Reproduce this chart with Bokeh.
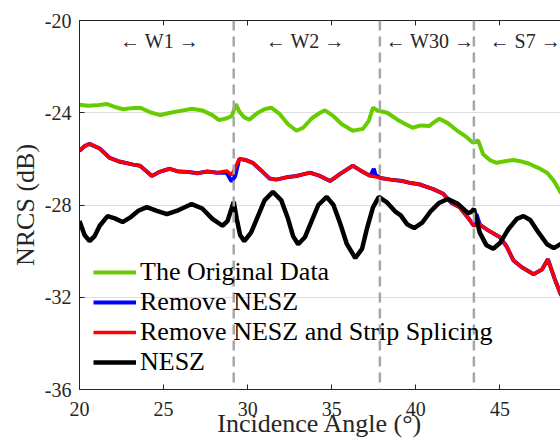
from bokeh.plotting import figure
from bokeh.models import Range1d, FixedTicker, LinearAxis, Span, CustomJSTickFormatter
from bokeh.core.properties import value
from bokeh.embed import file_html
from bokeh.resources import INLINE

# ---------------- data ----------------
orig_x = [20.0, 20.5, 21.0, 21.6, 22.1, 22.6, 23.1, 23.6, 24.2, 24.8, 25.4, 26.0, 26.7, 27.3, 27.9,
          28.3, 28.7, 29.05, 29.2, 29.3, 29.5, 29.8, 30.1, 30.6, 31.0, 31.4, 31.9, 32.4, 32.9, 33.3,
          33.8, 34.3, 34.6, 35.1, 35.6, 36.25, 36.85, 37.2, 37.45, 37.7, 38.3, 38.9, 39.4, 39.8, 40.3,
          40.8, 41.1, 41.4, 41.9, 42.5, 43.0, 43.4, 43.7, 44.0, 44.4, 44.8, 45.3, 45.8, 46.2, 46.7,
          47.3, 47.8, 48.2, 48.6, 49.0]
orig_y = [-23.65, -23.70, -23.68, -23.62, -23.75, -23.85, -23.80, -23.78, -23.98, -24.10, -24.00, -23.92,
          -23.83, -23.90, -24.10, -24.32, -24.25, -24.15, -23.85, -23.62, -23.95, -24.20, -24.30, -24.00,
          -23.85, -23.78, -24.05, -24.50, -24.78, -24.65, -24.25, -24.00, -23.90, -24.15, -24.50, -24.78,
          -24.70, -24.35, -23.78, -23.90, -24.00, -24.30, -24.50, -24.65, -24.55, -24.57, -24.40, -24.26,
          -24.45, -24.80, -25.05, -25.30, -25.20, -25.80, -26.05, -26.17, -26.10, -26.05, -26.10, -26.20,
          -26.40, -26.60, -26.95, -27.45, -27.80]

red_x = [20.0, 20.3, 20.6, 21.2, 21.8, 22.3, 22.7, 23.2, 23.6, 24.0, 24.3, 24.8, 25.36, 25.9, 26.5,
         27.0, 27.6, 28.2, 28.75, 29.05, 29.25, 29.5, 29.9, 30.3, 30.8, 31.3, 31.7, 32.3, 32.9, 33.4,
         33.7, 34.3, 34.9, 35.5, 36.25, 36.7, 37.3, 37.5, 37.6, 37.9, 38.5, 39.2, 39.7, 40.2, 40.6,
         41.0, 41.6, 42.1, 42.6, 43.1, 43.45, 43.6, 43.8, 44.3, 45.0, 45.4, 45.8, 46.3, 47.0, 47.5,
         47.85, 48.3, 48.6, 49.0]
red_y = [-25.65, -25.45, -25.35, -25.55, -25.96, -26.10, -26.17, -26.25, -26.30, -26.55, -26.74, -26.55,
         -26.43, -26.55, -26.57, -26.62, -26.55, -26.60, -26.52, -26.70, -26.40, -26.00, -26.05, -26.17,
         -26.50, -26.85, -26.90, -26.80, -26.74, -26.65, -26.60, -26.74, -26.96, -26.65, -26.30, -26.50,
         -26.74, -26.76, -26.78, -26.83, -26.90, -26.96, -27.05, -27.10, -27.20, -27.30, -27.50, -27.90,
         -28.10, -28.55, -28.90, -28.88, -28.85, -29.10, -29.40, -29.80, -30.40, -30.70, -31.00, -30.80,
         -30.35, -31.30, -31.85, -32.30]

blue_x = red_x
blue_y = [-25.65, -25.45, -25.35, -25.55, -25.96, -26.10, -26.17, -26.25, -26.30, -26.55, -26.74, -26.55,
          -26.43, -26.55, -26.57, -26.62, -26.55, -26.60, -26.60, -26.98, -26.75, -26.00, -26.05, -26.17,
          -26.50, -26.85, -26.90, -26.80, -26.74, -26.65, -26.60, -26.74, -26.96, -26.65, -26.30, -26.50,
          -26.74, -26.43, -26.70, -26.83, -26.90, -26.96, -27.05, -27.10, -27.20, -27.30, -27.50, -27.90,
          -28.10, -28.55, -28.90, -28.40, -28.85, -29.10, -29.40, -29.80, -30.40, -30.70, -31.00, -30.80,
          -30.35, -31.30, -31.85, -32.30]

nesz_x = [20.0, 20.3, 20.6, 20.9, 21.2, 21.67, 22.1, 22.56, 23.0, 23.5, 24.0, 24.6, 25.2, 25.9, 26.67,
          27.3, 27.9, 28.5, 28.8, 29.0, 29.17, 29.35, 29.55, 29.8, 30.2, 30.6, 31.0, 31.5, 32.0, 32.4,
          32.7, 33.0, 33.4, 33.8, 34.2, 34.7, 35.1, 35.5, 35.9, 36.4, 36.8, 37.1, 37.45, 37.8, 38.3,
          38.8, 39.1, 39.5, 39.9, 40.4, 40.9, 41.4, 41.9, 42.5, 43.1, 43.3, 43.45, 43.6, 43.8, 44.2,
          44.6, 45.0, 45.5, 46.0, 46.4, 46.8, 47.3, 47.8, 48.2, 48.6, 49.0]
nesz_y = [-28.70, -29.30, -29.57, -29.35, -28.90, -28.48, -28.58, -28.74, -28.55, -28.25, -28.09, -28.25,
          -28.40, -28.22, -27.96, -28.15, -28.60, -28.90, -28.70, -28.25, -27.87, -28.60, -29.30, -29.57,
          -29.20, -28.50, -27.80, -27.43, -27.80, -28.60, -29.35, -29.70, -29.40, -28.70, -28.00, -27.65,
          -28.00, -28.80, -29.70, -30.30, -29.90, -29.00, -28.10, -27.65, -27.90, -28.30, -28.45, -28.85,
          -29.00, -28.75, -28.25, -27.90, -27.74, -27.95, -28.35, -28.30, -28.17, -28.60, -29.20, -29.75,
          -29.90, -29.65, -29.05, -28.60, -28.48, -28.65, -29.20, -29.70, -29.87, -29.70, -29.50]

boundaries = [29.17, 37.86, 43.45]
mode_labels = ["\u2190 W1 \u2192", "\u2190 W2 \u2192", "\u2190 W30 \u2192", "\u2190 S7 \u2192"]
mode_x = [24.76, 33.42, 40.83, 46.5]
mode_y = [-20.9, -20.9, -20.9, -20.9]

x_ticks = [20, 25, 30, 35, 40, 45]
y_ticks = [-36, -32, -28, -24, -20]
y_tick_labels = ["-36", "-32", "-28", "-24", "-20"]

# ---------------- figure ----------------
FONT = "'Liberation Serif', 'Times New Roman', Times, serif"
AX = "#262626"

p = figure(width=560, height=441, x_range=Range1d(20, 48.6), y_range=Range1d(-36, -20),
           output_backend="svg", toolbar_location=None,
           min_border_left=79, min_border_right=0, min_border_top=20, min_border_bottom=52)
p.outline_line_color = None
p.background_fill_color = "white"
p.border_fill_color = "white"

p.xgrid.visible = False
p.ygrid.ticker = FixedTicker(ticks=y_ticks)
p.ygrid.grid_line_color = "#dedede"
p.ygrid.grid_line_width = 1

for ax in (p.xaxis[0], p.yaxis[0]):
    ax.axis_line_color = AX
    ax.major_tick_line_color = AX
    ax.major_tick_in = 5
    ax.major_tick_out = 0
    ax.minor_tick_line_color = None
    ax.major_label_text_font = FONT
    ax.major_label_text_font_size = "20px"
    ax.major_label_text_color = AX
    ax.axis_label_text_font = FONT
    ax.axis_label_text_font_size = "26px"
    ax.axis_label_text_font_style = "normal"
    ax.axis_label_text_color = AX

p.xaxis[0].ticker = FixedTicker(ticks=x_ticks)
p.yaxis[0].ticker = FixedTicker(ticks=y_ticks)
p.yaxis[0].major_label_overrides = dict(zip(y_ticks, y_tick_labels))
p.xaxis[0].axis_label = "Incidence Angle (\u00b0)"
p.yaxis[0].axis_label = "NRCS (dB)"
p.xaxis[0].major_label_standoff = 12
p.xaxis[0].axis_label_standoff = -10
p.yaxis[0].major_label_standoff = 8
p.yaxis[0].axis_label_standoff = 2

top = LinearAxis(ticker=FixedTicker(ticks=x_ticks), axis_line_color=AX, major_tick_line_color=AX,
                 major_tick_in=5, major_tick_out=0, minor_tick_line_color=None,
                 formatter=CustomJSTickFormatter(code="return ''"), major_label_standoff=0)
p.add_layout(top, "above")

for b in boundaries:
    p.add_layout(Span(location=b, dimension="height", line_color="#a6a6a6",
                      line_width=2.5, line_dash="10 6"))

p.line(orig_x, orig_y, line_color="#66cc00", line_width=4, legend_label="The Original Data")
p.line(blue_x, blue_y, line_color="#0000ff", line_width=4, legend_label="Remove NESZ")
p.line(red_x, red_y, line_color="#ff0000", line_width=3.5, legend_label="Remove NESZ and Strip Splicing")
p.line(nesz_x, nesz_y, line_color="#000000", line_width=4.5, legend_label="NESZ")

p.text(x=mode_x, y=mode_y, text=mode_labels, text_font=value(FONT), text_font_size="20px",
       text_align="center", text_baseline="middle", text_color=AX)

lg = p.legend[0]
lg.location = (14, 12)
lg.background_fill_alpha = 0
lg.border_line_color = None
lg.padding = 0
lg.margin = 0
lg.spacing = 0
lg.glyph_width = 43
lg.glyph_height = 30
lg.label_height = 30
lg.label_standoff = 4
lg.label_text_font = FONT
lg.label_text_font_size = "26px"
lg.label_text_color = "#000000"

open("out.html", "w").write(file_html(p, INLINE))
